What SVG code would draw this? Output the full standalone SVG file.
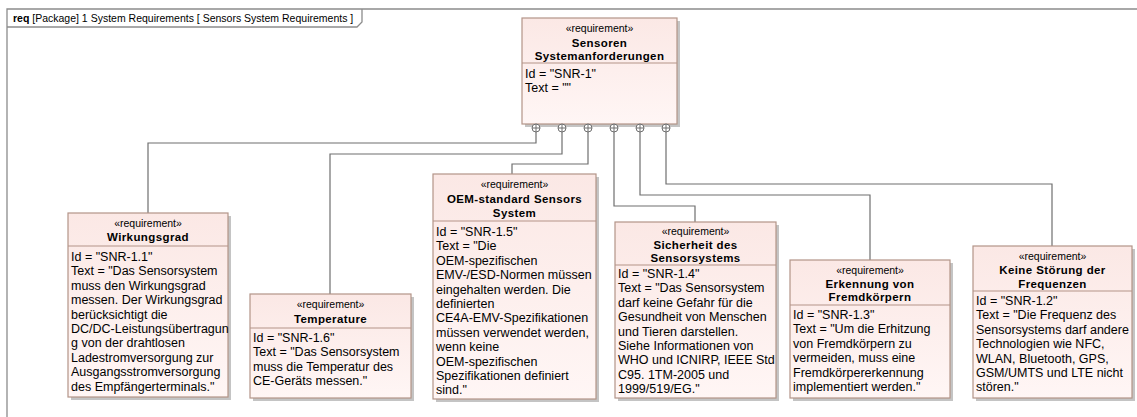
<svg xmlns="http://www.w3.org/2000/svg" width="1137" height="417" viewBox="0 0 1137 417">
  <defs>
    <linearGradient id="reqFill" x1="0" y1="0" x2="0" y2="1">
      <stop offset="0" stop-color="#fbe8e5"/>
      <stop offset="1" stop-color="#fff6f5"/>
    </linearGradient>
    <g id="port">
      <circle cx="0" cy="0" r="4" fill="#ffffff" stroke="#6f6f6f" stroke-width="1"/>
      <path d="M-4 0H4M0 -4V4" stroke="#6f6f6f" stroke-width="1"/>
    </g>
  </defs>
  <style>
    .frame { fill: none; stroke: #8c8c8c; stroke-width: 1.3; }
    .tab { font-family: "Liberation Sans", Arial, sans-serif; font-size: 10.5px; fill: #000; }
    .shadow { fill: #c4c4c4; }
    .box { fill: url(#reqFill); stroke: #b39488; stroke-width: 1.2; }
    .sep { stroke: #b39488; stroke-width: 1.2; }
    .stereo { font-family: "Liberation Sans", Arial, sans-serif; font-size: 10.5px; fill: #000; text-anchor: middle; }
    .title { font-family: "Liberation Sans", Arial, sans-serif; font-size: 11.5px; font-weight: bold; letter-spacing: 0.4px; fill: #000; text-anchor: middle; }
    .body { font-family: "Liberation Sans", Arial, sans-serif; font-size: 12.5px; fill: #000; }
    .conn { fill: none; stroke: #6f6f6f; stroke-width: 1.2; }
  </style>

  <rect width="1137" height="417" fill="#ffffff"/>

  <!-- diagram frame with its name tab -->
  <g id="frame">
    <path class="frame" d="M7 417V9H1137"/>
    <path class="frame" d="M7 27H357L362 22V9"/>
    <text class="tab" x="13" y="22"><tspan font-weight="bold">req</tspan> [Package] 1 System Requirements [ Sensors System Requirements ]</text>
  </g>

  <!-- containment connectors -->
  <g id="connectors">
    <path class="conn" d="M536 132V143H148V213"/>
    <path class="conn" d="M562 132V154H330V294"/>
    <path class="conn" d="M588 132V164H512V174"/>
    <path class="conn" d="M614 132V206H695V222"/>
    <path class="conn" d="M640 132V195H870V260"/>
    <path class="conn" d="M666 132V184H1052V246"/>
  </g>

  <!-- root requirement -->
  <g id="snr-1">
    <rect class="shadow" x="525" y="21" width="155" height="106"/>
    <rect class="box" x="522" y="18" width="155" height="106"/>
    <line class="sep" x1="522" y1="63" x2="677" y2="63"/>
    <text class="stereo" x="599.5" y="32">«requirement»</text>
    <text class="title" x="599.5" y="47">Sensoren</text>
    <text class="title" x="599.5" y="60">Systemanforderungen</text>
    <text class="body" x="525" y="78">Id = "SNR-1"<tspan x="525" dy="14.4">Text = ""</tspan></text>
    <use href="#port" x="536" y="128"/>
    <use href="#port" x="562" y="128"/>
    <use href="#port" x="588" y="128"/>
    <use href="#port" x="614" y="128"/>
    <use href="#port" x="640" y="128"/>
    <use href="#port" x="666" y="128"/>
  </g>

  <g id="snr-1-1">
    <rect class="shadow" x="71" y="216" width="160" height="184"/>
    <rect class="box" x="68" y="213" width="160" height="184"/>
    <line class="sep" x1="68" y1="246" x2="228" y2="246"/>
    <text class="stereo" x="148" y="227">«requirement»</text>
    <text class="title" x="148" y="241">Wirkungsgrad</text>
    <text class="body" x="71" y="261">Id = "SNR-1.1"<tspan x="71" dy="14.4">Text = "Das Sensorsystem</tspan><tspan x="71" dy="14.4">muss den Wirkungsgrad</tspan><tspan x="71" dy="14.4">messen. Der Wirkungsgrad</tspan><tspan x="71" dy="14.4">berücksichtigt die</tspan><tspan x="71" dy="14.4">DC/DC-Leistungsübertragun</tspan><tspan x="71" dy="14.4">g von der drahtlosen</tspan><tspan x="71" dy="14.4">Ladestromversorgung zur</tspan><tspan x="71" dy="14.4">Ausgangsstromversorgung</tspan><tspan x="71" dy="14.4">des Empfängerterminals."</tspan></text>
  </g>

  <g id="snr-1-6">
    <rect class="shadow" x="253" y="297" width="161" height="104"/>
    <rect class="box" x="250" y="294" width="161" height="104"/>
    <line class="sep" x1="250" y1="328" x2="411" y2="328"/>
    <text class="stereo" x="330.5" y="308">«requirement»</text>
    <text class="title" x="330.5" y="323">Temperature</text>
    <text class="body" x="253" y="342">Id = "SNR-1.6"<tspan x="253" dy="14.4">Text = "Das Sensorsystem</tspan><tspan x="253" dy="14.4">muss die Temperatur des</tspan><tspan x="253" dy="14.4">CE-Geräts messen."</tspan></text>
  </g>

  <g id="snr-1-5">
    <rect class="shadow" x="436" y="177" width="163" height="225"/>
    <rect class="box" x="433" y="174" width="163" height="225"/>
    <line class="sep" x1="433" y1="221" x2="596" y2="221"/>
    <text class="stereo" x="514.5" y="188">«requirement»</text>
    <text class="title" x="514.5" y="203">OEM-standard Sensors</text>
    <text class="title" x="514.5" y="217">System</text>
    <text class="body" x="436" y="236">Id = "SNR-1.5"<tspan x="436" dy="14.4">Text = "Die</tspan><tspan x="436" dy="14.4">OEM-spezifischen</tspan><tspan x="436" dy="14.4">EMV-/ESD-Normen müssen</tspan><tspan x="436" dy="14.4">eingehalten werden. Die</tspan><tspan x="436" dy="14.4">definierten</tspan><tspan x="436" dy="14.4">CE4A-EMV-Spezifikationen</tspan><tspan x="436" dy="14.4">müssen verwendet werden,</tspan><tspan x="436" dy="14.4">wenn keine</tspan><tspan x="436" dy="14.4">OEM-spezifischen</tspan><tspan x="436" dy="14.4">Spezifikationen definiert</tspan><tspan x="436" dy="14.4">sind."</tspan></text>
  </g>

  <g id="snr-1-4">
    <rect class="shadow" x="618" y="225" width="161" height="176"/>
    <rect class="box" x="615" y="222" width="161" height="176"/>
    <line class="sep" x1="615" y1="265" x2="776" y2="265"/>
    <text class="stereo" x="695.5" y="235">«requirement»</text>
    <text class="title" x="695.5" y="249">Sicherheit des</text>
    <text class="title" x="695.5" y="262">Sensorsystems</text>
    <text class="body" x="618" y="278">Id = "SNR-1.4"<tspan x="618" dy="14.4">Text = "Das Sensorsystem</tspan><tspan x="618" dy="14.4">darf keine Gefahr für die</tspan><tspan x="618" dy="14.4">Gesundheit von Menschen</tspan><tspan x="618" dy="14.4">und Tieren darstellen.</tspan><tspan x="618" dy="14.4">Siehe Informationen von</tspan><tspan x="618" dy="14.4">WHO und ICNIRP, IEEE Std</tspan><tspan x="618" dy="14.4">C95. 1TM-2005 und</tspan><tspan x="618" dy="14.4">1999/519/EG."</tspan></text>
  </g>

  <g id="snr-1-3">
    <rect class="shadow" x="793" y="263" width="160" height="138"/>
    <rect class="box" x="790" y="260" width="160" height="138"/>
    <line class="sep" x1="790" y1="305" x2="950" y2="305"/>
    <text class="stereo" x="870" y="274">«requirement»</text>
    <text class="title" x="870" y="288">Erkennung von</text>
    <text class="title" x="870" y="301">Fremdkörpern</text>
    <text class="body" x="793" y="319">Id = "SNR-1.3"<tspan x="793" dy="14.4">Text = "Um die Erhitzung</tspan><tspan x="793" dy="14.4">von Fremdkörpern zu</tspan><tspan x="793" dy="14.4">vermeiden, muss eine</tspan><tspan x="793" dy="14.4">Fremdkörpererkennung</tspan><tspan x="793" dy="14.4">implementiert werden."</tspan></text>
  </g>

  <g id="snr-1-2">
    <rect class="shadow" x="976" y="249" width="159" height="152"/>
    <rect class="box" x="973" y="246" width="159" height="152"/>
    <line class="sep" x1="973" y1="291" x2="1132" y2="291"/>
    <text class="stereo" x="1052.5" y="260">«requirement»</text>
    <text class="title" x="1052.5" y="274">Keine Störung der</text>
    <text class="title" x="1052.5" y="288">Frequenzen</text>
    <text class="body" x="976" y="305">Id = "SNR-1.2"<tspan x="976" dy="14.4">Text = "Die Frequenz des</tspan><tspan x="976" dy="14.4">Sensorsystems darf andere</tspan><tspan x="976" dy="14.4">Technologien wie NFC,</tspan><tspan x="976" dy="14.4">WLAN, Bluetooth, GPS,</tspan><tspan x="976" dy="14.4">GSM/UMTS und LTE nicht</tspan><tspan x="976" dy="14.4">stören."</tspan></text>
  </g>
</svg>
